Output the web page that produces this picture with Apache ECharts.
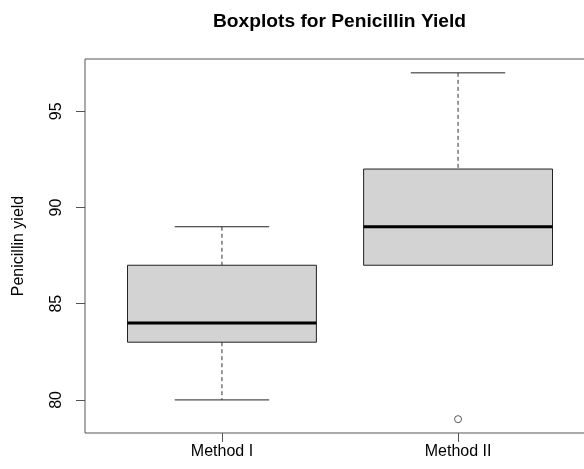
<!DOCTYPE html>
<html>
<head>
<meta charset="utf-8">
<script src="https://cdn.jsdelivr.net/npm/echarts@6/dist/echarts.min.js"></script>
<style>html,body{margin:0;padding:0;background:#fff}#c{width:584px;height:469px}</style>
</head>
<body>
<div id="c"></div>
<script>
const categories = ['Method I', 'Method II'];
const lowerWhisker = [80, 87];
const q1 = [83, 87];
const median = [84, 89];
const q3 = [87, 92];
const upperWhisker = [89, 97];
const outlierGroup = [2];
const outlierValue = [79];
const yTicks = [80, 85, 90, 95];
const xTicks = [1, 2];

const boxData = categories.map((c, i) => [i + 1, lowerWhisker[i], q1[i], median[i], q3[i], upperWhisker[i]]);
const outlierData = outlierGroup.map((g, i) => [g, outlierValue[i]]);

const FONT = 'Liberation Sans, Arial, sans-serif';
const chart = echarts.init(document.getElementById('c'), null, { renderer: 'canvas' });

function renderBox(params, api) {
  const x = api.value(0);
  const lw = api.value(1), a = api.value(2), m = api.value(3), b = api.value(4), uw = api.value(5);
  const hw = 0.4, cw = 0.2;
  const pTL = api.coord([x - hw, b]);
  const pBR = api.coord([x + hw, a]);
  const pMedL = api.coord([x - hw, m]);
  const pMedR = api.coord([x + hw, m]);
  const pUw = api.coord([x, uw]);
  const pB = api.coord([x, b]);
  const pA = api.coord([x, a]);
  const pLw = api.coord([x, lw]);
  const capUL = api.coord([x - cw, uw]), capUR = api.coord([x + cw, uw]);
  const capLL = api.coord([x - cw, lw]), capLR = api.coord([x + cw, lw]);
  const solid = { stroke: '#222', lineWidth: 1 };
  const dashed = { stroke: '#333', lineWidth: 1, lineDash: [4, 3] };
  const children = [
    { type: 'rect', shape: { x: pTL[0], y: pTL[1], width: pBR[0] - pTL[0], height: pBR[1] - pTL[1] },
      style: { fill: '#D3D3D3', stroke: '#222', lineWidth: 1 } }
  ];
  if (uw !== b) {
    children.push({ type: 'line', shape: { x1: pUw[0], y1: pUw[1], x2: pB[0], y2: pB[1] }, style: dashed });
    children.push({ type: 'line', shape: { x1: capUL[0], y1: capUL[1], x2: capUR[0], y2: capUR[1] }, style: solid });
  }
  if (lw !== a) {
    children.push({ type: 'line', shape: { x1: pA[0], y1: pA[1], x2: pLw[0], y2: pLw[1] }, style: dashed });
    children.push({ type: 'line', shape: { x1: capLL[0], y1: capLL[1], x2: capLR[0], y2: capLR[1] }, style: solid });
  }
  children.push({ type: 'line', shape: { x1: pMedL[0], y1: pMedL[1], x2: pMedR[0], y2: pMedR[1] }, style: { stroke: '#000', lineWidth: 3 } });
  return { type: 'group', children: children };
}

chart.setOption({
  animation: false,
  backgroundColor: '#fff',
  title: {
    text: 'Boxplots for Penicillin Yield',
    left: 213, top: 12, padding: 0,
    textStyle: { fontFamily: FONT, fontWeight: 'bold', fontSize: 19.2, color: '#000' }
  },
  grid: {
    left: 85, top: 59, right: -11, bottom: 36,
    outerBoundsMode: 'none',
    show: true, borderColor: '#555', borderWidth: 1, backgroundColor: 'transparent'
  },
  xAxis: {
    type: 'value', min: 0.42, max: 2.58,
    axisLine: { show: false },
    splitLine: { show: false },
    axisTick: { show: true, length: 9, lineStyle: { color: '#555' }, customValues: xTicks },
    axisLabel: {
      customValues: xTicks, margin: 11, fontFamily: FONT, fontSize: 16, color: '#000',
      formatter: v => categories[Math.round(v) - 1] || ''
    }
  },
  yAxis: {
    type: 'value', min: 78.28, max: 97.72,
    name: 'Penicillin yield', nameLocation: 'middle', nameGap: 58, nameRotate: 90,
    nameTextStyle: { fontFamily: FONT, fontSize: 16, color: '#000' },
    axisLine: { show: false },
    splitLine: { show: false },
    axisTick: { show: true, length: 9, lineStyle: { color: '#555' }, customValues: yTicks },
    axisLabel: { customValues: yTicks, rotate: 90, margin: 20, fontFamily: FONT, fontSize: 16, color: '#000' }
  },
  series: [
    { type: 'custom', renderItem: renderBox, data: boxData, clip: false, z: 2 },
    { type: 'scatter', data: outlierData, symbol: 'circle', symbolSize: 7,
      itemStyle: { color: '#fff', borderColor: '#333', borderWidth: 1 }, z: 3 }
  ]
});
</script>
</body>
</html>
